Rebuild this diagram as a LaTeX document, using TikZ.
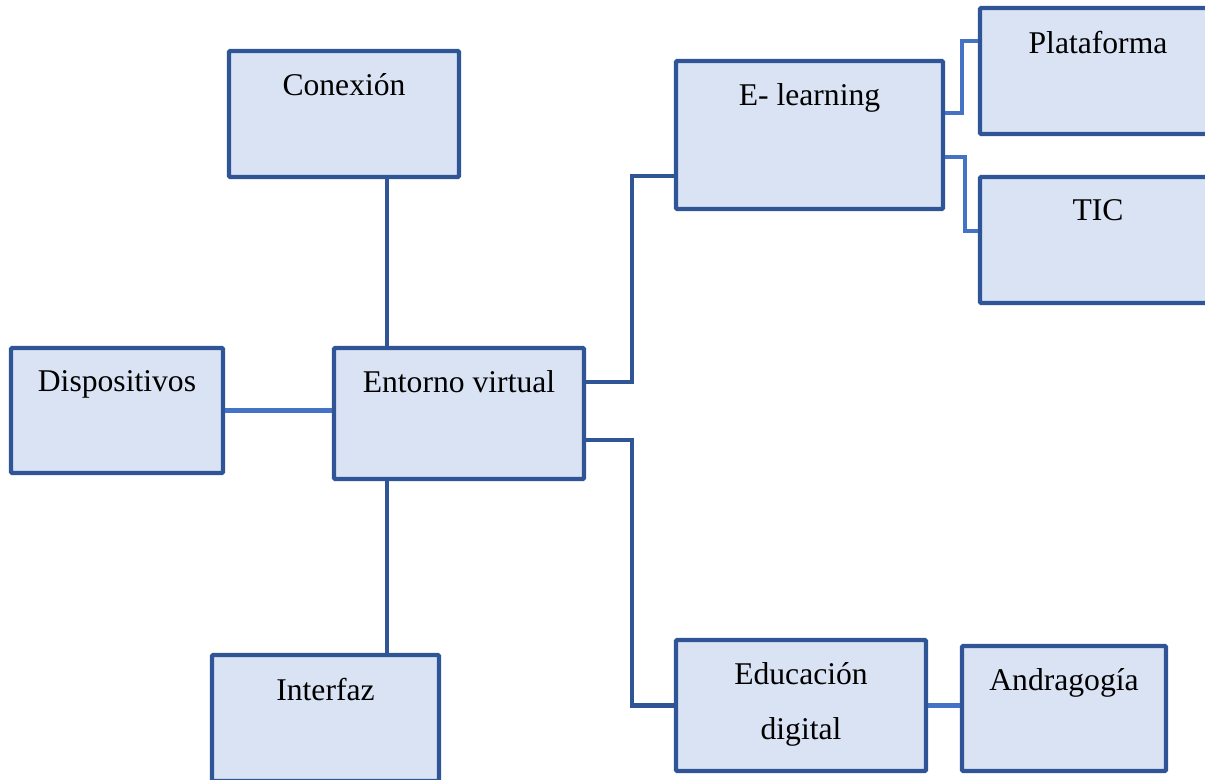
\documentclass[tikz,border=0pt]{standalone}
\usepackage{fontspec}
\setmainfont{Liberation Serif}
\definecolor{okvirplava}{HTML}{2F5597}
\definecolor{punjenje}{HTML}{DAE3F3}
\definecolor{svetloplava}{HTML}{4472C4}
\tikzset{
  kutija/.style={draw=okvirplava,fill=punjenje,line width=2.3pt,rounded corners=0.6pt,inner sep=0pt},
  natpis/.style={anchor=north,inner sep=0pt,align=center,font=\fontsize{18}{31}\selectfont},
  veza/.style={draw=okvirplava,line width=2.3pt},
  vezas/.style={draw=svetloplava,line width=2.1pt},
  vezad/.style={draw=svetloplava,line width=2.8pt},
}
\begin{document}
\begin{tikzpicture}
  \useasboundingbox (0,0) rectangle (24.1,-15.58);

  % ---------- KUTIJE ----------
  \foreach \ime/\x/\y/\w/\h/\tekst in {%
      conexion/6.88/-2.28/4.60/2.52/{Conexión},
      elearning/16.19/-2.70/5.34/2.96/{E- learning},
      plataforma/21.96/-1.42/4.72/2.52/{Plataforma},
      tic/21.96/-4.80/4.72/2.52/{TIC},
      dispositivos/2.34/-8.21/4.24/2.50/{Dispositivos},
      entorno/9.18/-8.27/5.00/2.62/{Entorno virtual},
      interfaz/6.51/-14.36/4.54/2.52/{Interfaz},
      educacion/16.02/-14.11/5.00/2.62/{Educación\\digital},
      andragogia/21.28/-14.17/4.08/2.50/{Andragogía}}
  {
    \node[kutija,minimum width=\w cm,minimum height=\h cm] (\ime) at (\x,\y) {};
    \node[natpis] (t\ime) at ([yshift=-0.49cm]\ime.north) {\tekst};
  }

  % ---------- VEZE ----------
  \draw[veza] ([xshift=-1.44cm]entorno.north) -- ([xshift=-1.44cm]entorno.north |- conexion.south);
  \draw[veza] ([xshift=-1.44cm]entorno.south) -- ([xshift=-1.44cm]entorno.south |- interfaz.north);
  \draw[vezad] (dispositivos.east) -- (dispositivos.east -| entorno.west);

  \draw[veza] ([yshift=0.63cm]entorno.east) -- ++(0.92,0) |- ([yshift=-0.82cm]elearning.west);
  \draw[veza] ([yshift=-0.53cm]entorno.east) -- ++(0.92,0) |- (educacion.west);

  \draw[vezas] ([yshift=0.44cm]elearning.east) -- ++(0.34,0) |- ([yshift=0.60cm]plataforma.west);
  \draw[vezas] ([yshift=-0.44cm]elearning.east) -- ++(0.40,0) |- ([yshift=0.18cm]tic.west);
  \draw[vezad] (educacion.east) -- (educacion.east -| andragogia.west);

\end{tikzpicture}
\end{document}
